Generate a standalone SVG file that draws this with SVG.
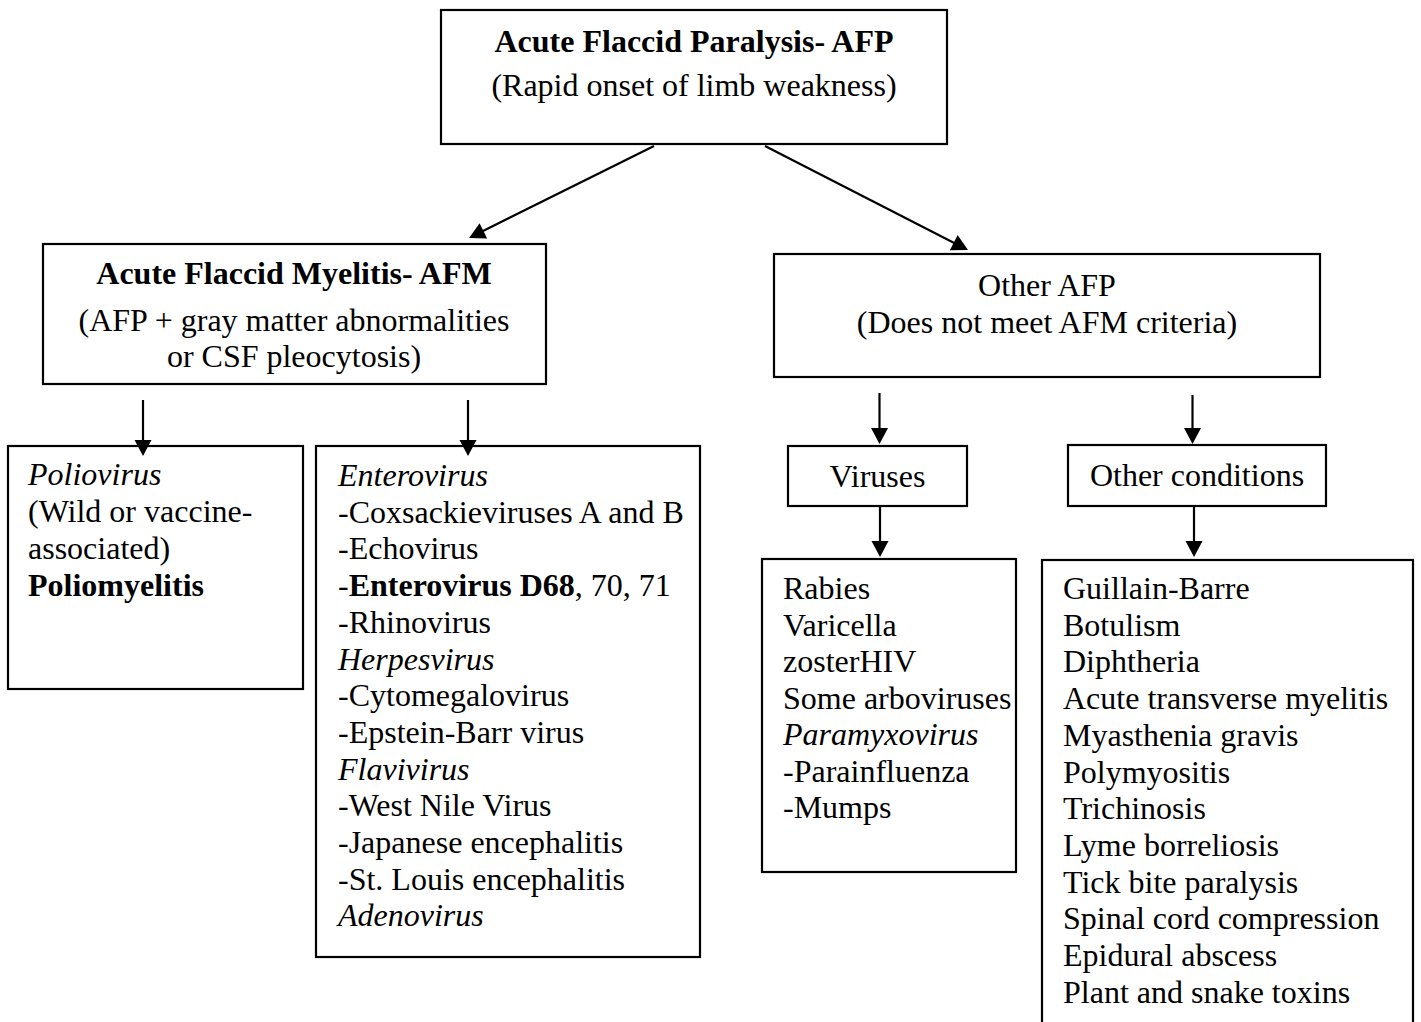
<svg xmlns="http://www.w3.org/2000/svg" width="1421" height="1022" viewBox="0 0 1421 1022">
<style>
  .box { fill: #ffffff; stroke: #000000; stroke-width: 2.2; }
  .t { font-family: "Liberation Serif", "Times New Roman", serif; font-size: 32px; fill: #000000; }
  .c { text-anchor: middle; }
  .b { font-weight: bold; }
  .i { font-style: italic; }
  .conn line { stroke: #000000; stroke-width: 2.2; fill: none; marker-end: url(#arrow); }
</style>
<defs>
  <marker id="arrow" markerUnits="userSpaceOnUse" markerWidth="17" markerHeight="17" refX="6" refY="8.5" orient="auto" overflow="visible">
    <path d="M0,0 L16,8.5 L0,17 Z" fill="#000000"/>
  </marker>
</defs>
<rect x="0" y="0" width="1421" height="1022" fill="#ffffff"/>

<g id="node-afp">
  <rect class="box" x="441" y="10" width="506" height="134"/>
  <text class="t c b" x="694" y="52">Acute Flaccid Paralysis- AFP</text>
  <text class="t c" x="694" y="96">(Rapid onset of limb weakness)</text>
</g>

<g id="node-afm">
  <rect class="box" x="43" y="244" width="503" height="140"/>
  <text class="t c b" x="294" y="284">Acute Flaccid Myelitis- AFM</text>
  <text class="t c" x="294" y="331">(AFP + gray matter abnormalities</text>
  <text class="t c" x="294" y="367">or CSF pleocytosis)</text>
</g>

<g id="node-other-afp">
  <rect class="box" x="774" y="254" width="546" height="123"/>
  <text class="t c" x="1047" y="296">Other AFP</text>
  <text class="t c" x="1047" y="333">(Does not meet AFM criteria)</text>
</g>

<g id="node-polio">
  <rect class="box" x="8" y="446" width="295" height="243"/>
  <text class="t i" x="28" y="485">Poliovirus</text>
  <text class="t" x="28" y="522">(Wild or vaccine-</text>
  <text class="t" x="28" y="559">associated)</text>
  <text class="t b" x="28" y="596">Poliomyelitis</text>
</g>

<g id="node-enterovirus">
  <rect class="box" x="316" y="446" width="384" height="511"/>
  <text class="t i" x="338" y="486">Enterovirus</text>
  <text class="t" x="338" y="522.7">-Coxsackieviruses A and B</text>
  <text class="t" x="338" y="559.4">-Echovirus</text>
  <text class="t" x="338" y="596.1">-<tspan class="b">Enterovirus D68</tspan>, 70, 71</text>
  <text class="t" x="338" y="632.8">-Rhinovirus</text>
  <text class="t i" x="338" y="669.5">Herpesvirus</text>
  <text class="t" x="338" y="706.2">-Cytomegalovirus</text>
  <text class="t" x="338" y="742.9">-Epstein-Barr virus</text>
  <text class="t i" x="338" y="779.6">Flavivirus</text>
  <text class="t" x="338" y="816.3">-West Nile Virus</text>
  <text class="t" x="338" y="853">-Japanese encephalitis</text>
  <text class="t" x="338" y="889.7">-St. Louis encephalitis</text>
  <text class="t i" x="338" y="926.4">Adenovirus</text>
</g>

<g id="node-viruses">
  <rect class="box" x="788" y="446" width="179" height="60"/>
  <text class="t c" x="877.5" y="487">Viruses</text>
</g>

<g id="node-other-conditions">
  <rect class="box" x="1068" y="445" width="258" height="61"/>
  <text class="t c" x="1197" y="486">Other conditions</text>
</g>

<g id="node-virus-list">
  <rect class="box" x="762" y="559" width="254" height="313"/>
  <text class="t" x="783" y="599">Rabies</text>
  <text class="t" x="783" y="635.5">Varicella</text>
  <text class="t" x="783" y="672">zosterHIV</text>
  <text class="t" x="783" y="708.5">Some arboviruses</text>
  <text class="t i" x="783" y="745">Paramyxovirus</text>
  <text class="t" x="783" y="781.5">-Parainfluenza</text>
  <text class="t" x="783" y="818">-Mumps</text>
</g>

<g id="node-condition-list">
  <rect class="box" x="1042" y="560" width="371" height="480"/>
  <text class="t" x="1063" y="599">Guillain-Barre</text>
  <text class="t" x="1063" y="635.7">Botulism</text>
  <text class="t" x="1063" y="672.4">Diphtheria</text>
  <text class="t" x="1063" y="709.1">Acute transverse myelitis</text>
  <text class="t" x="1063" y="745.8">Myasthenia gravis</text>
  <text class="t" x="1063" y="782.5">Polymyositis</text>
  <text class="t" x="1063" y="819.2">Trichinosis</text>
  <text class="t" x="1063" y="855.9">Lyme borreliosis</text>
  <text class="t" x="1063" y="892.6">Tick bite paralysis</text>
  <text class="t" x="1063" y="929.3">Spinal cord compression</text>
  <text class="t" x="1063" y="966">Epidural abscess</text>
  <text class="t" x="1063" y="1002.7">Plant and snake toxins</text>
</g>

<g id="connectors" class="conn">
  <line x1="654" y1="146" x2="478" y2="233.5"/>
  <line x1="765" y1="146" x2="959.1" y2="245.4"/>
  <line x1="143" y1="400" x2="143" y2="446"/>
  <line x1="468" y1="400" x2="468" y2="446"/>
  <line x1="879.5" y1="393" x2="879.5" y2="434"/>
  <line x1="1192.5" y1="395" x2="1192.5" y2="434"/>
  <line x1="880" y1="506" x2="880" y2="547"/>
  <line x1="1194" y1="506" x2="1194" y2="547"/>
</g>
</svg>
